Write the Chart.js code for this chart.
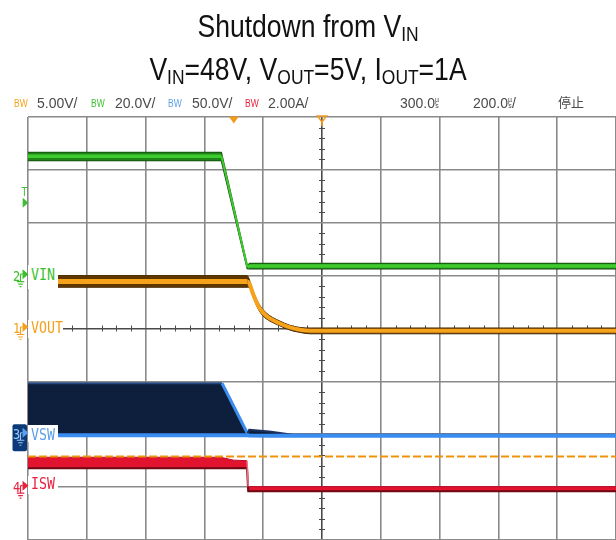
<!DOCTYPE html>
<html><head><meta charset="utf-8">
<script src="https://cdn.jsdelivr.net/npm/chart.js@4/dist/chart.umd.min.js"></script>
<style>
html,body{margin:0;padding:0;background:#fff;}
#wrap{position:relative;width:616px;height:540px;overflow:hidden;background:#fff;}
canvas{position:absolute;left:0;top:0;}
.t{position:absolute;white-space:nowrap;}
.title{font-family:'Liberation Sans',Arial,sans-serif;font-size:32px;line-height:36px;color:#111;left:0;width:616px;text-align:center;transform:scaleX(0.83);transform-origin:308px 0;}
.title .s{font-size:21px;position:relative;top:4px;}
.hdr{font-family:'Liberation Sans',Arial,sans-serif;font-size:14px;line-height:16px;color:#4a4a4a;top:95px;}
.bw{font-family:'Liberation Sans',sans-serif;font-size:10px;line-height:12px;top:98px;transform:scaleX(0.85);transform-origin:0 0;}
.us{display:inline-block;font-size:7px;line-height:6px;vertical-align:top;margin-top:2px;text-align:center;}
.cjk{font-family:'Noto Sans CJK SC',sans-serif;font-size:13px;line-height:16px;color:#4a4a4a;top:94px;}
.lab{position:absolute;left:28px;background:#fff;overflow:visible;}
.lab span{display:inline-block;font-family:'DejaVu Sans Mono',monospace;font-size:16px;line-height:20px;transform:scaleX(0.83);transform-origin:0 0;position:absolute;left:3px;}
</style></head>
<body><div id="wrap">
<canvas id="c" width="616" height="540"></canvas>
<div class="t title" style="top:8px">Shutdown from V<span class="s">IN</span></div>
<div class="t title" style="top:51px">V<span class="s">IN</span>=48V, V<span class="s">OUT</span>=5V, I<span class="s">OUT</span>=1A</div>
<div class="t bw" style="left:14px;color:#f5a01a">BW</div><div class="t hdr" style="left:37px">5.00V/</div>
<div class="t bw" style="left:91px;color:#3cbf2e">BW</div><div class="t hdr" style="left:115px">20.0V/</div>
<div class="t bw" style="left:168px;color:#5c9fe6">BW</div><div class="t hdr" style="left:192px">50.0V/</div>
<div class="t bw" style="left:245px;color:#e8203e">BW</div><div class="t hdr" style="left:268px">2.00A/</div>
<div class="t hdr" style="left:400px">300.0<span class="us">µ<br>s</span></div>
<div class="t hdr" style="left:473px">200.0<span class="us">µ<br>s</span>/</div>
<div class="t cjk" style="left:558px">停止</div>
<div id="ov"></div>
</div>
<script>
// ---- horizontal: 200 µs/div, delay 300 µs (time in µs, trigger at 0) ----
const xGridTimes = [-700, -500, -300, -100, 100, 300, 500, 700, 900, 1100, 1300];
const timeCenter = 300;

// ---- CH2 VIN (V), 20 V/div ----
const vinT   = [-700, -42, 46, 54, 1300];
const vinMid = [45.2, 45.2, 3.3, 3.6, 3.6];
const vinHi  = [46.6, 46.6, 3.9, 4.6, 4.6];
const vinLo  = [43.5, 43.5, 2.7, 2.6, 2.6];
const vinTrigLevel = 27.6;

// ---- CH1 VOUT (V), 5 V/div ----
const voutT   = [-700, 46, 52, 65, 82, 99, 123, 157, 191, 225, 260, 1300];
const voutMid = [4.44, 4.44, 4.3, 3.3, 2.2, 1.5, 0.95, 0.47, 0.1, -0.12, -0.22, -0.22];
const voutHi  = [5.0, 5.0, 4.7, 3.6, 2.5, 1.8, 1.2, 0.7, 0.3, 0.1, 0.05, 0.05];
const voutLo  = [3.9, 3.9, 3.9, 3.0, 1.9, 1.2, 0.7, 0.25, -0.15, -0.37, -0.5, -0.5];

// ---- CH3 VSW (V), 50 V/div ----
const vswT  = [-700, -40, 47, 52, 120, 200, 1300];
const vswHi = [48.2, 48.2, 0.5, 4.2, 2.5, -0.4, -0.4];
const vswLo = [-0.9, -0.9, -0.9, -1.2, -1.4, -1.4, -1.4];

// ---- CH4 ISW (A), 2 A/div ----
const iswT  = [-700, -45, 0, 45, 49, 1300];
const iswHi = [1.13, 1.13, 1.02, 1.0, 0.02, 0.02];
const iswLo = [0.71, 0.71, 0.71, 0.72, -0.16, -0.16];
const iswRefLevel = 1.16;

const pts = (t, v) => t.map((x, i) => ({x, y: v[i]}));
const steep = c => Math.abs(c.p1.y - c.p0.y) > 2.5 * Math.abs(c.p1.x - c.p0.x);
const falling = c => (c.p1.y - c.p0.y) > 20;

const datasets = [
  {data: pts([-700, 1300], [iswRefLevel, iswRefLevel]), yAxisID: 'yIsw', borderColor: '#f2920c', borderWidth: 2, borderDash: [8, 3], order: 0},
  // VIN
  {data: pts(vinT, vinMid), yAxisID: 'yVin', borderColor: '#3fcb2f', borderWidth: 3.5, order: 1,
   segment: {borderWidth: c => steep(c) ? 2 : 3.5}},
  {data: pts(vinT, vinHi), yAxisID: 'yVin', borderColor: '#175f0f', borderWidth: 1.2, fill: '+1', backgroundColor: '#1f8516', order: 2},
  {data: pts(vinT, vinLo), yAxisID: 'yVin', borderColor: '#0f3f09', borderWidth: 1.5, order: 2},
  // VOUT
  {data: pts(voutT, voutMid), yAxisID: 'yVout', borderColor: '#f7a21b', borderWidth: 5, order: 3, cubicInterpolationMode: 'monotone',
   segment: {borderWidth: c => c.p0.parsed.x > 40 ? 4 : 5}},
  {data: pts(voutT, voutHi), yAxisID: 'yVout', borderColor: '#4a2a00', borderWidth: 1, fill: '+1', backgroundColor: '#5e3600', order: 4, cubicInterpolationMode: 'monotone'},
  {data: pts(voutT, voutLo), yAxisID: 'yVout', borderColor: '#3a2000', borderWidth: 1, order: 4, cubicInterpolationMode: 'monotone'},
  // VSW: lower edge (on top), upper envelope edge, filled envelope
  {data: pts(vswT, vswHi), yAxisID: 'yVsw', borderWidth: 2, order: 6,
   segment: {borderColor: c => falling(c) ? '#3b8ef0' : (c.p0.parsed.x > 40 ? '#1a3060' : '#24477e'),
             borderWidth: c => falling(c) ? 3 : 2}},
  {data: pts(vswT, vswHi), yAxisID: 'yVsw', borderWidth: 0, fill: '+1', backgroundColor: '#0e1f3d', order: 7},
  {data: pts(vswT, vswLo), yAxisID: 'yVsw', borderColor: '#3a8cf0', borderWidth: 4, order: 5},
  // ISW: upper edge, filled envelope, lower edge
  {data: pts(iswT, iswHi), yAxisID: 'yIsw', borderWidth: 1, order: 8,
   segment: {borderColor: c => steep(c) ? '#ee6f86' : '#b8102a', borderWidth: c => steep(c) ? 1.5 : 1}},
  {data: pts(iswT, iswHi), yAxisID: 'yIsw', borderWidth: 0, fill: '+1', backgroundColor: '#e1132f', order: 10},
  {data: pts(iswT, iswLo), yAxisID: 'yIsw', borderColor: '#6e0812', borderWidth: 2, order: 9},
];

const gridColor = '#8a8a8a';
const centerColor = '#4a4a4a';

const scopeDecor = {
  id: 'scopeDecor',
  beforeDatasetsDraw(chart) {
    const {ctx, scales: {x, y}} = chart;
    const cx = x.getPixelForValue(timeCenter), cy = y.getPixelForValue(4);
    ctx.save();
    ctx.strokeStyle = centerColor; ctx.lineWidth = 1;
    ctx.beginPath();
    for (let d = 0; d <= 8; d += 0.2) {
      if (Math.abs(d - Math.round(d)) < 0.01) continue;
      const py = Math.round(y.getPixelForValue(d)) + 0.5;
      ctx.moveTo(cx - 3, py); ctx.lineTo(cx + 3, py);
    }
    for (let t = -700; t <= 1300; t += 50) {
      if ((t + 700) % 200 === 0) continue;
      const px = Math.round(x.getPixelForValue(t)) + 0.5;
      ctx.moveTo(px, cy - 3); ctx.lineTo(px, cy + 3);
    }
    ctx.stroke();
    ctx.restore();
  },
  afterDraw(chart) {
    const {ctx, chartArea: a, scales: {x}} = chart;
    ctx.save();
    const tx = x.getPixelForValue(0);
    ctx.fillStyle = '#f39a1d';
    ctx.beginPath(); ctx.moveTo(tx - 5, a.top - 0.5); ctx.lineTo(tx + 5, a.top - 0.5); ctx.lineTo(tx, a.top + 6.5); ctx.closePath(); ctx.fill();
    const cx = x.getPixelForValue(timeCenter);
    ctx.strokeStyle = '#f39a1d'; ctx.lineWidth = 1.5;
    ctx.beginPath(); ctx.moveTo(cx - 4.5, a.top - 1); ctx.lineTo(cx + 4.5, a.top - 1); ctx.lineTo(cx, a.top + 5); ctx.closePath(); ctx.stroke();
    ctx.beginPath(); ctx.moveTo(cx, a.top + 5); ctx.lineTo(cx, a.top + 9); ctx.stroke();
    ctx.restore();
  }
};

const hidden = (min, max) => ({type: 'linear', display: false, min, max});

const chart = new Chart(document.getElementById('c'), {
  type: 'line',
  data: {datasets},
  plugins: [scopeDecor],
  options: {
    responsive: false, animation: false, events: [],
    layout: {padding: {left: 28, top: 117, right: 0, bottom: 0}},
    plugins: {legend: {display: false}, tooltip: {enabled: false}, title: {display: false}},
    elements: {point: {radius: 0}, line: {tension: 0, borderCapStyle: 'butt', borderJoinStyle: 'round'}},
    scales: {
      x: {type: 'linear', min: -700, max: 1300,
          afterBuildTicks: s => { s.ticks = xGridTimes.map(v => ({value: v})); },
          ticks: {display: false}, border: {display: false},
          grid: {drawTicks: false, lineWidth: 1.6, color: c => c.tick && c.tick.value === timeCenter ? centerColor : gridColor}},
      y: {type: 'linear', min: 0, max: 8, position: 'left',
          ticks: {display: false, stepSize: 1}, border: {display: false},
          grid: {drawTicks: false, lineWidth: 1.6, color: c => c.tick && c.tick.value === 4 ? centerColor : gridColor}},
      yVin: hidden(-100, 60),
      yVout: hidden(-20, 20),
      yVsw: hidden(-100, 300),
      yIsw: hidden(-2, 14),
    }
  }
});

// ---- channel markers and labels (positions from the chart's own scales) ----
const channels = [
  {axis: 'yVin', num: '2', name: 'VIN', color: '#3cbf2e', w: 30, dy: -1, top: -11, h: 24},
  {axis: 'yVout', num: '1', name: 'VOUT', color: '#f5a01a', w: 35, dy: -0.5, top: -9, h: 18},
  {axis: 'yVsw', num: '3', name: 'VSW', color: '#5c9fe6', w: 30, dy: 0, top: -9, h: 17, box: true},
  {axis: 'yIsw', num: '4', name: 'ISW', color: '#e8203e', w: 30, dy: -3, top: -11, h: 18},
];
const ov = document.getElementById('ov');
let svg = '<svg width="30" height="540" style="position:absolute;left:0;top:0" xmlns="http://www.w3.org/2000/svg">';
channels.forEach(ch => {
  const y0 = chart.scales[ch.axis].getPixelForValue(0);
  const lab = document.createElement('div');
  lab.className = 'lab';
  lab.style.top = (y0 + ch.top) + 'px';
  lab.style.width = ch.w + 'px';
  lab.style.height = ch.h + 'px';
  const sp = document.createElement('span');
  sp.textContent = ch.name;
  sp.style.color = ch.color;
  sp.style.top = (ch.dy - 9.7 - ch.top) + 'px';
  lab.appendChild(sp);
  ov.appendChild(lab);
  let fg = ch.color;
  if (ch.box) {
    svg += `<rect x="12.5" y="${y0 - 10}" width="14.5" height="27" rx="2" fill="#0b3a78"/>`;
    fg = '#9cc8f6';
  }
  const ay = y0 - 1.5;
  svg += `<text x="13" y="${y0 + 5}" font-family="DejaVu Sans Mono" font-size="14" fill="${fg}" transform="translate(13 0) scale(0.85 1) translate(-13 0)">${ch.num}</text>`;
  svg += `<polygon points="22.5,${ay - 5} 28.5,${ay} 22.5,${ay + 5}" fill="${ch.box ? '#5aa0ee' : ch.color}"/>`;
  svg += `<path d="M20.5,${ay} H22.5 M20.5,${ay} V${y0 + 6} M16.8,${y0 + 6} H24.3 M18.2,${y0 + 8.5} H22.8 M19.6,${y0 + 11} H21.4" stroke="${fg}" stroke-width="1.2" fill="none"/>`;
});
const ty = chart.scales.yVin.getPixelForValue(vinTrigLevel);
svg += `<text x="21.5" y="${ty - 7}" font-family="DejaVu Sans Mono" font-size="12" fill="#3cbf2e" transform="translate(21.5 0) scale(0.8 1) translate(-21.5 0)">T</text>`;
svg += `<polygon points="22.7,${ty - 5} 28.3,${ty} 22.7,${ty + 5}" fill="#3cbf2e"/>`;
svg += '</svg>';
ov.insertAdjacentHTML('beforeend', svg);
</script>
</body></html>
